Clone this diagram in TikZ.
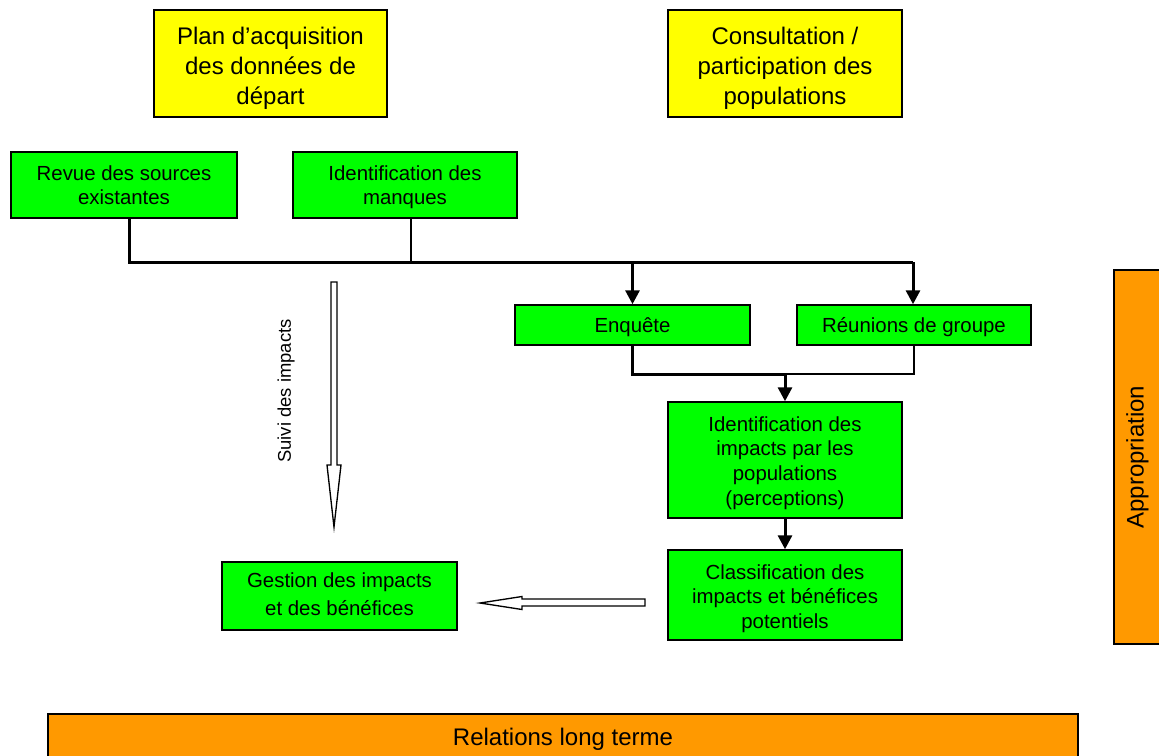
\documentclass[tikz,border=0pt]{standalone}
\usepackage{fontspec}
\setmainfont{Liberation Sans}
\usetikzlibrary{arrows.meta}
\definecolor{boxgreen}{HTML}{00FF00}
\definecolor{boxyellow}{HTML}{FFFF00}
\definecolor{boxorange}{HTML}{FF9900}
\newcommand{\lowtext}[2]{\raisebox{-#1}[\height][\depth]{\begin{tabular}{@{}c@{}}#2\end{tabular}}}
\tikzset{
  box/.style={draw=black, line width=1.1pt, inner sep=0pt, align=center},
  greenbox/.style={box, fill=boxgreen, font=\fontsize{15.3pt}{18.4pt}\selectfont},
  yellowbox/.style={box, fill=boxyellow, font=\fontsize{18pt}{22.5pt}\selectfont},
  orangebox/.style={box, fill=boxorange, font=\fontsize{18pt}{22pt}\selectfont},
  thk/.style={line width=2.25pt, line join=miter},
  thn/.style={line width=0.8pt},
  tip/.style={-{Triangle[length=10.5pt,width=10.5pt]}},
  hollow/.style={draw=black, line width=1pt, fill=white, line join=miter},
}
\begin{document}
\begin{tikzpicture}[x=0.75pt,y=-0.75pt]
\useasboundingbox (0,0) rectangle (1159,756);
% boxes
\node[yellowbox, minimum width=174.75pt, minimum height=80.25pt] (plan) at (270.5,63.5) {\lowtext{4pt}{Plan d’acquisition\\des données de\\départ}};
\node[yellowbox, minimum width=175.5pt, minimum height=80.25pt] (consult) at (785,63.5) {\lowtext{4pt}{Consultation /\\participation des\\populations}};
\node[greenbox, minimum width=169.5pt, minimum height=49.5pt] (revue) at (124,185) {\lowtext{2pt}{Revue des sources\\existantes}};
\node[greenbox, minimum width=168pt, minimum height=49.5pt] (manques) at (405,185) {\lowtext{2pt}{Identification des\\manques}};
\node[greenbox, minimum width=176.25pt, minimum height=30pt] (enquete) at (632.5,325) {\lowtext{2pt}{Enquête}};
\node[greenbox, minimum width=175.5pt, minimum height=30pt] (reunions) at (914,325) {\lowtext{2pt}{Réunions de groupe}};
\node[greenbox, minimum width=175.5pt, minimum height=87pt] (impacts) at (785,460) {\lowtext{2.5pt}{Identification des\\impacts par les\\populations\\(perceptions)}};
\node[greenbox, minimum width=175.5pt, minimum height=67.5pt] (classif) at (785,595) {\lowtext{3pt}{Classification des\\impacts et bénéfices\\potentiels}};
\node[greenbox, font=\fontsize{15.3pt}{21pt}\selectfont, minimum width=176.25pt, minimum height=51pt] (gestion) at (339.5,596) {\lowtext{0pt}{Gestion des impacts\\et des bénéfices}};
\node[orangebox, minimum width=36pt, minimum height=280.5pt] (approp) at (1138,457) {};
\node[font=\fontsize{18pt}{22pt}\selectfont, rotate=90] (approptext) at (1137.5,457) {Appropriation};
\node[orangebox, minimum width=772.5pt, minimum height=34.5pt] (relations) at (563,737) {\lowtext{2pt}{Relations long terme}};
\node[font=\fontsize{13.8pt}{16pt}\selectfont, rotate=90] (suivi) at (286,391) {Suivi des impacts};
% junction coordinates
\coordinate (j1) at (129,262);
\coordinate (jm) at (411,262);
\coordinate (j2) at (632.5,262);
\coordinate (j3) at (913,262);
\coordinate (k1) at (632.5,374);
\coordinate (k2) at (785,374);
\coordinate (k3) at (914,374);
% connectors
\draw[thk] (revue.south -| j1) -- (j1) -- (j3);
\draw[thn] (manques.south -| jm) -- (jm);
\draw[thk, tip] (j2) -- (enquete.north);
\draw[thk, tip] (j3) -- (reunions.north -| j3);
\draw[thk] (enquete.south) -- (k1) -- (k2);
\draw[thn] (reunions.south) -- (k3) -- (k2);
\draw[thk, tip] (k2) -- (impacts.north);
\draw[thk, tip] (impacts.south) -- (classif.north);
% hollow arrows
\draw[hollow] (331,282) -- (337,282) -- (337,465) -- (341,465) -- (334,527) -- (327,465) -- (331,465) -- cycle;
\draw[hollow] (645,599) -- (645,606) -- (522,606) -- (522,609.5) -- (480,603) -- (522,596.5) -- (522,599) -- cycle;
\end{tikzpicture}
\end{document}
